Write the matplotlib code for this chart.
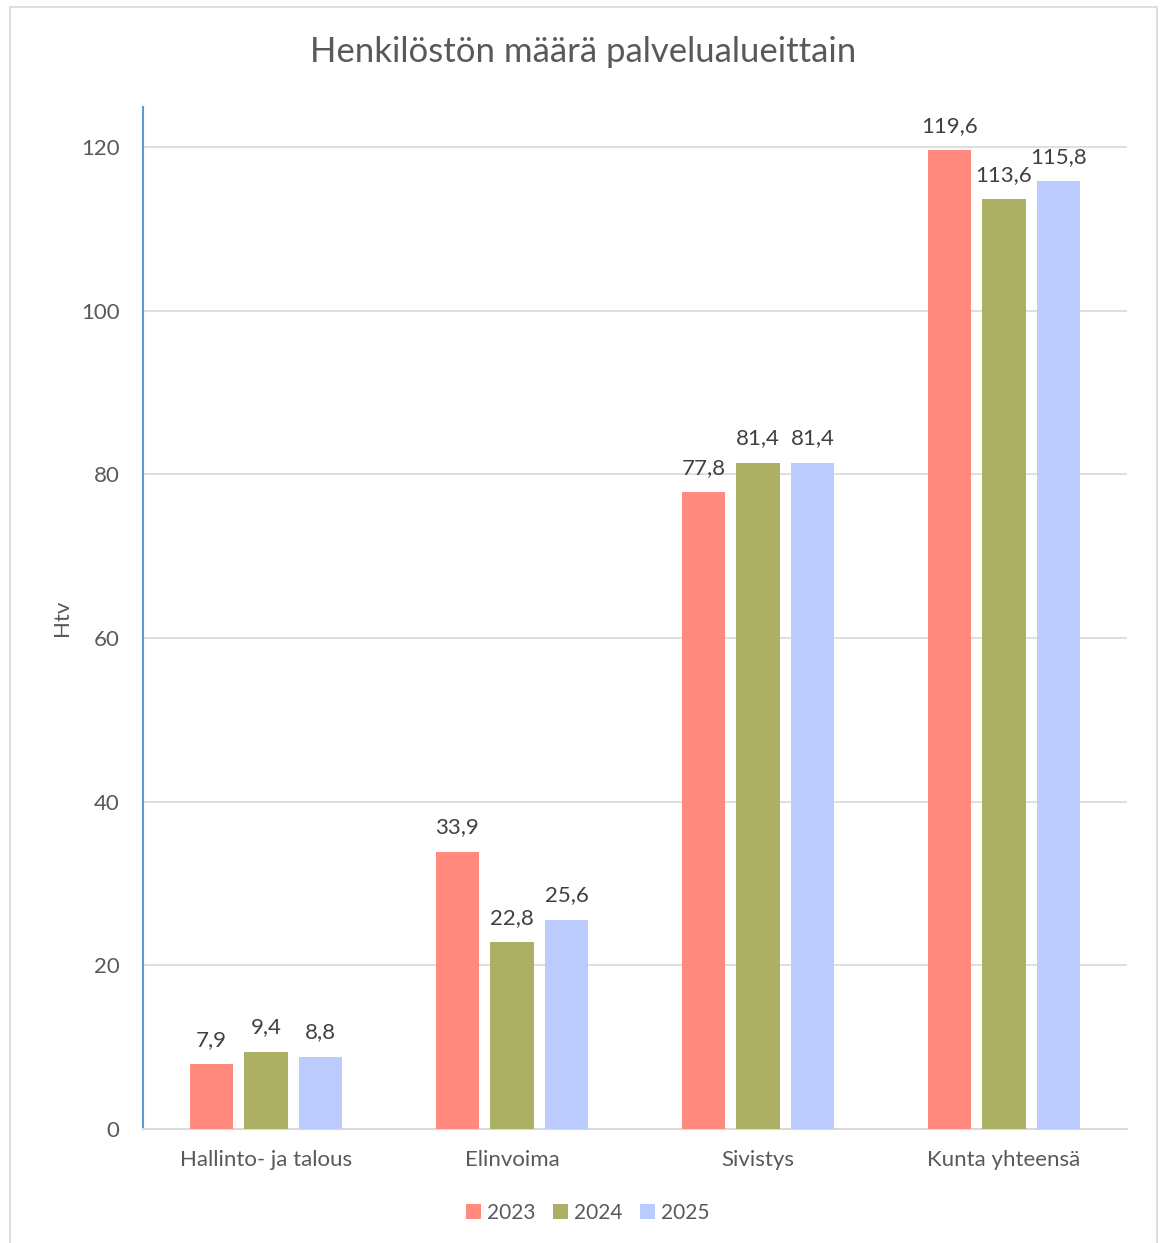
import numpy as np
import matplotlib
matplotlib.use("Agg")
import matplotlib.pyplot as plt
from matplotlib.patches import Rectangle

plt.rcParams["font.family"] = ["Lato", "DejaVu Sans"]

categories = ["Hallinto- ja talous", "Elinvoima", "Sivistys", "Kunta yhteensä"]
years = ["2023", "2024", "2025"]
v2023 = [7.9, 33.9, 77.8, 119.6]
v2024 = [9.4, 22.8, 81.4, 113.6]
v2025 = [8.8, 25.6, 81.4, 115.8]
colors = ["#FF8A7D", "#ABB065", "#BBCBFD"]
TEXT = "#595959"

W, H = 1162, 1243
fig = plt.figure(figsize=(W / 100, H / 100), dpi=100)
fig.patches.append(Rectangle((10 / W, -0.01), 1147 / W, 1 - 7 / H + 0.01,
                             transform=fig.transFigure, fill=False,
                             edgecolor="#D9D9D9", linewidth=1.2))

ax = fig.add_axes([143 / W, 1 - 1129 / H, 984 / W, (1129 - 107) / H])

x = np.arange(len(categories))
width = 0.175
step = 0.222
for i, (vals, year) in enumerate(zip([v2023, v2024, v2025], years)):
    pos = x + (i - 1) * step
    bars = ax.bar(pos, vals, width, color=colors[i], label=year, zorder=3)
    for b, v in zip(bars, vals):
        ax.annotate(f"{v:.1f}".replace(".", ","),
                    (b.get_x() + b.get_width() / 2, v),
                    xytext=(0, 10.5), textcoords="offset points",
                    ha="center", va="bottom", fontsize=16, color="#404040")

ax.set_xlim(-0.5, len(categories) - 0.5)
ax.set_ylim(0, 124.9)
ax.set_yticks(range(0, 121, 20))
ax.yaxis.grid(True, color="#D9D9D9", linewidth=1.2, zorder=0)
ax.set_xticks(x)
ax.set_xticklabels(categories)
ax.tick_params(axis="both", length=0, labelsize=16, labelcolor=TEXT)
ax.tick_params(axis="y", pad=17)
ax.tick_params(axis="x", pad=15)

for s in ["top", "right"]:
    ax.spines[s].set_visible(False)
ax.spines["left"].set_color("#5B9BD5")
ax.spines["left"].set_linewidth(1.5)
ax.spines["bottom"].set_color("#D9D9D9")
ax.spines["bottom"].set_linewidth(1.5)

ax.set_ylabel("Htv", fontsize=16, color=TEXT, labelpad=6)
fig.text(583 / W, 1 - 52 / H, "Henkilöstön määrä palvelualueittain",
         ha="center", va="center", fontsize=25, color=TEXT)

leg = fig.legend(loc="center", bbox_to_anchor=(588 / W, 1 - 1213 / H),
                 ncol=3, frameon=False, fontsize=15, handlelength=0.7,
                 handleheight=0.7, columnspacing=0.85, handletextpad=0.3)
for t in leg.get_texts():
    t.set_color(TEXT)

fig.savefig("out.png", dpi=100)
